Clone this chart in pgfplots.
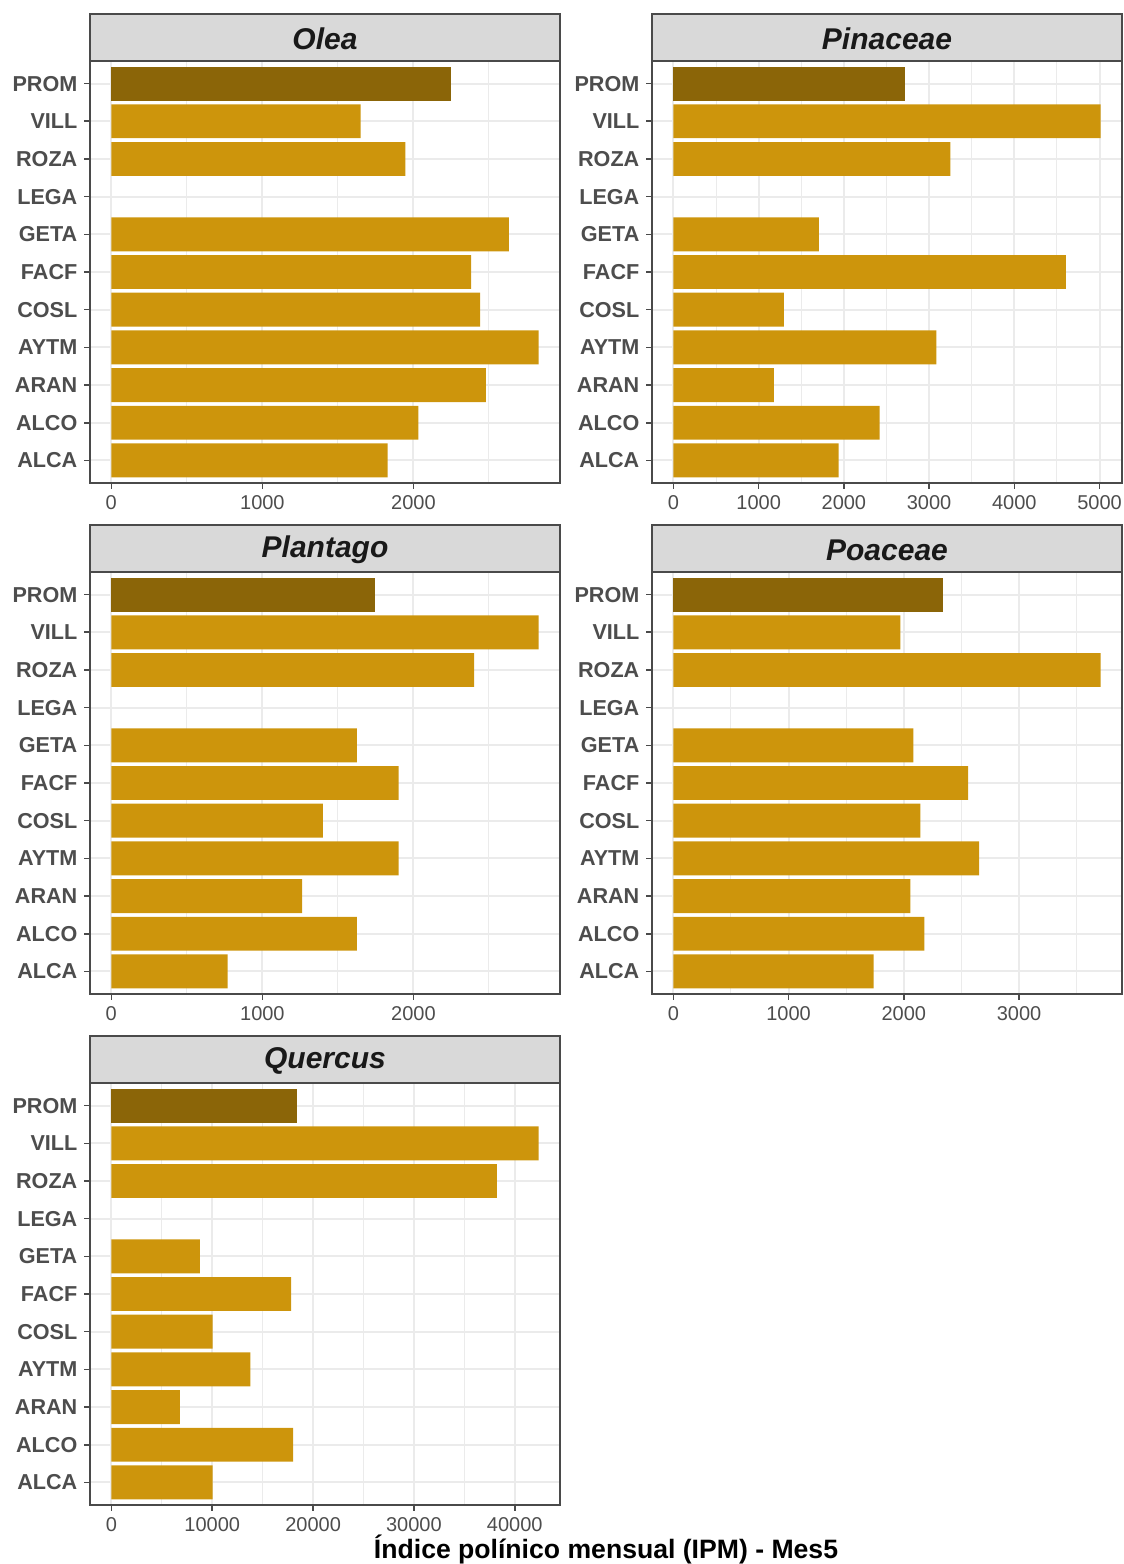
\documentclass[border=0pt]{standalone}
\usepackage{pgfplots}
\pgfplotsset{compat=1.18}
\usepackage{fontspec}
\setmainfont{Liberation Sans}
\definecolor{barc}{HTML}{CD950C}
\definecolor{promc}{HTML}{8B6508}
\definecolor{gridmaj}{HTML}{EBEBEB}
\definecolor{stripc}{HTML}{D9D9D9}
\definecolor{framec}{HTML}{4A4A4A}
\definecolor{tickc}{HTML}{4D4D4D}
\pgfplotsset{
 panel/.style={
  xbar, scale only axis, width=235pt, height=211pt,
  anchor=north west,
  ymin=-0.6, ymax=10.6,
  ytick={0,...,10},
  yticklabels={ALCA,ALCO,ARAN,AYTM,COSL,FACF,GETA,LEGA,ROZA,VILL,PROM},
  bar width=0.9, bar shift=0pt,
  axis line style={framec, line width=0.8pt},
  tick style={framec, line width=0.8pt},
  major tick length=2.8pt,
  minor tick length=0pt,
  tick align=outside,
  xtick pos=bottom, ytick pos=left,
  grid=both,
  major grid style={gridmaj, line width=1pt},
  minor grid style={gridmaj, line width=0.5pt},
  yticklabel style={font=\bfseries\fontsize{10.8}{12}\selectfont, text=tickc},
  xticklabel style={font=\fontsize{10}{12}\selectfont, text=tickc},
  /pgf/number format/assume math mode=true,
  scaled x ticks=false,
  xticklabel={\pgfmathprintnumber[fixed,1000 sep={}]{\tick}},
 },
}
\tikzset{
 strip/.style={fill=stripc, draw=framec, line width=0.8pt},
 striptext/.style={font=\bfseries\itshape\fontsize{15}{18}\selectfont, text=black!90},
}
\begin{document}
\begin{tikzpicture}
\useasboundingbox (0,0) rectangle (562pt,-782pt);

% Olea
\begin{axis}[panel, name=olea, at={(45pt,-30.5pt)},
  xmin=-141, xmax=2970, xtick={0,1000,2000}, minor xtick={500,1500,2500}]
\addplot[fill=barc, draw=none] coordinates {(1829,0) (2033,1) (2480,2) (2829,3) (2441,4) (2382,5) (2632,6) (1947,8) (1651,9)};
\addplot[fill=promc, draw=none] coordinates {(2250,10)};
\end{axis}
\draw[strip] (olea.north west) rectangle ([yshift=23.5pt]olea.north east);
\node[striptext] at ([yshift=11pt]olea.north) {Olea};

% Pinaceae
\begin{axis}[panel, name=pina, at={(326pt,-30.5pt)},
  xmin=-251, xmax=5263, xtick={0,1000,2000,3000,4000,5000}, minor xtick={500,1500,2500,3500,4500}]
\addplot[fill=barc, draw=none] coordinates {(1939,0) (2418,1) (1180,2) (3084,3) (1297,4) (4603,5) (1706,6) (3248,8) (5012,9)};
\addplot[fill=promc, draw=none] coordinates {(2722,10)};
\end{axis}
\draw[strip] (pina.north west) rectangle ([yshift=23.5pt]pina.north east);
\node[striptext] at ([yshift=11pt]pina.north) {Pinaceae};

% Plantago
\begin{axis}[panel, name=plan, at={(45pt,-286pt)},
  xmin=-141, xmax=2970, xtick={0,1000,2000}, minor xtick={500,1500,2500}]
\addplot[fill=barc, draw=none] coordinates {(770,0) (1625,1) (1263,2) (1901,3) (1401,4) (1901,5) (1625,6) (2401,8) (2829,9)};
\addplot[fill=promc, draw=none] coordinates {(1743,10)};
\end{axis}
\draw[strip] (plan.north west) rectangle ([yshift=23.5pt]plan.north east);
\node[striptext] at ([yshift=11pt]plan.north) {Plantago};

% Poaceae
\begin{axis}[panel, name=poac, at={(326pt,-286pt)},
  xmin=-185, xmax=3893, xtick={0,1000,2000,3000}, minor xtick={500,1500,2500,3500}]
\addplot[fill=barc, draw=none] coordinates {(1737,0) (2178,1) (2057,2) (2653,3) (2143,4) (2558,5) (2083,6) (3708,8) (1971,9)};
\addplot[fill=promc, draw=none] coordinates {(2342,10)};
\end{axis}
\draw[strip] (poac.north west) rectangle ([yshift=23.5pt]poac.north east);
\node[striptext] at ([yshift=11pt]poac.north) {Poaceae};

% Quercus
\begin{axis}[panel, name=quer, at={(45pt,-541.5pt)},
  xmin=-2118, xmax=44483, xtick={0,10000,20000,30000,40000}, minor xtick={5000,15000,25000,35000}]
\addplot[fill=barc, draw=none] coordinates {(10049,0) (18030,1) (6798,2) (13793,3) (10049,4) (17833,5) (8768,6) (38227,8) (42365,9)};
\addplot[fill=promc, draw=none] coordinates {(18424,10)};
\end{axis}
\draw[strip] (quer.north west) rectangle ([yshift=23.5pt]quer.north east);
\node[striptext] at ([yshift=11pt]quer.north) {Quercus};

\node[font=\bfseries\fontsize{13.3}{16}\selectfont, text=black] at (303pt,-774.5pt) {Índice polínico mensual (IPM) - Mes5};
\end{tikzpicture}
\end{document}
